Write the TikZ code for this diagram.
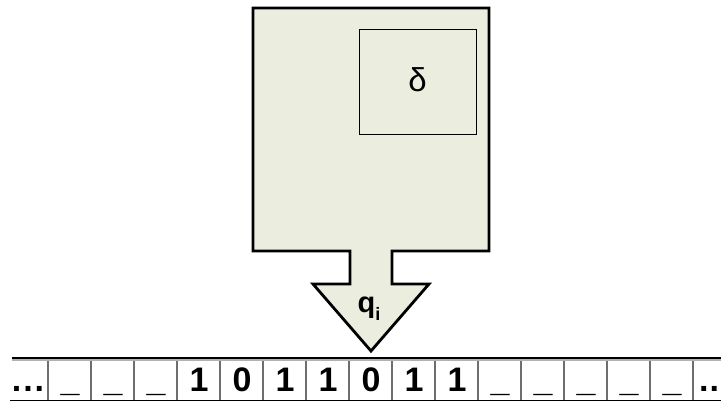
\documentclass[tikz,border=0pt]{standalone}
\usepackage{fontspec}
\setmainfont{Liberation Sans}
\definecolor{boxfill}{RGB}{235,238,222}
\definecolor{cellline}{RGB}{110,110,110}
\begin{document}
\begin{tikzpicture}[x=1pt,y=-1pt,
  machine/.style={draw=black,line width=2.8pt,fill=boxfill,line join=miter},
  tapesym/.style={font=\fontsize{34}{34}\selectfont\bfseries,anchor=base,inner sep=0pt},
  cellsep/.style={draw=cellline,line width=1.4pt}]
\useasboundingbox (0,0) rectangle (721,401);
% machine outline with arrow
\draw[machine] (253,8) -- (489,8) -- (489,251) -- (392,251) -- (392,284) -- (429,284)
  -- (371,351) -- (313,284) -- (350,284) -- (350,251) -- (253,251) -- cycle;
% transition function box
\node[draw=black,line width=1pt,minimum width=117pt,minimum height=105pt,inner sep=0pt] (delta) at (417.5,82.5) {};
\node[font=\fontsize{33}{33}\selectfont] (dlab) at ([yshift=3pt]delta.center) {δ};
% state label
\node[font=\fontsize{29}{29}\selectfont\bfseries,inner sep=0pt] (state) at (369,309) {q\raisebox{-8pt}{\fontsize{18}{18}\selectfont i}};
% tape
\foreach \x in {48,91,134,177,220,263,306,349,392,435,478,521,564,607,650,693}
  \draw[cellsep] (\x,358) -- (\x,400);
\coordinate (tl) at (12,358);
\coordinate (tr) at (721,358);
\coordinate (bl) at (10,400);
\coordinate (br) at (721,400);
\draw[gray!60,line width=2pt] ([yshift=-2pt]tl) -- ([yshift=-2pt]tr);
\draw[black,line width=2.2pt] (tl) -- (tr);
\draw[black,line width=1pt] (bl) -- (br);
\node[tapesym] (c0) at (28,391) {.\kern2pt.\kern2pt.};
\foreach \s [count=\i from 1] in {\_,\_,\_,1,0,1,1,0,1,1,\_,\_,\_,\_,\_}
  \node[tapesym] (c\i) at ({27+43*\i},391) {\s};
\node[tapesym,anchor=base west] (cend) at (699,391) {.\kern1pt.};
\end{tikzpicture}
\end{document}
